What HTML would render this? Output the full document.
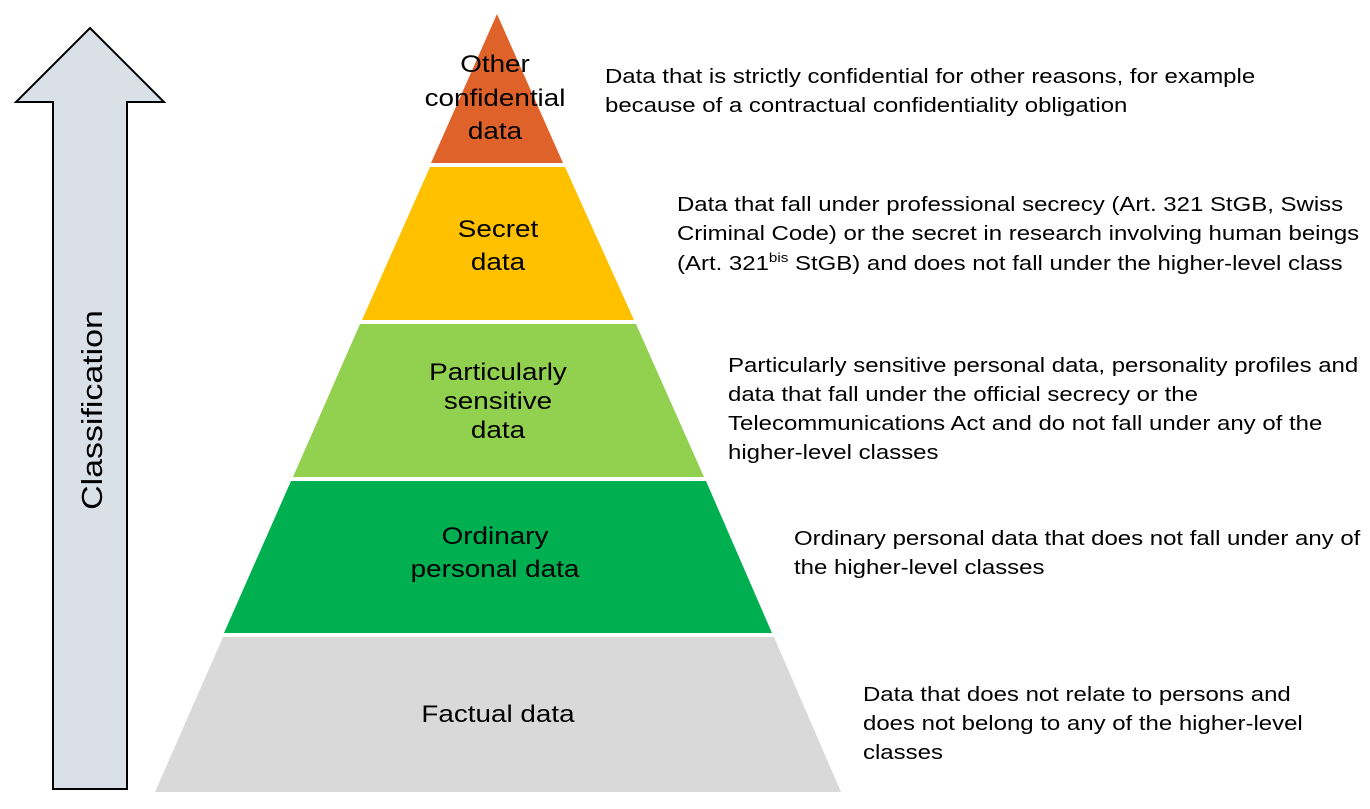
<!DOCTYPE html>
<html><head><meta charset="utf-8"><style>
body{margin:0;background:#fff;width:1370px;height:804px;overflow:hidden;font-family:"Liberation Sans",Arial,sans-serif}
</style></head><body>
<svg width="1370" height="804" xmlns="http://www.w3.org/2000/svg" font-family="Liberation Sans, Arial, sans-serif">
<polygon points="90,28 164,102 127,102 127,789 53,789 53,102 16,102" fill="#d9e0e8" stroke="#000" stroke-width="2"/>
<g transform="translate(102,410) rotate(-90) scale(1.17,1)"><text x="0" y="0" text-anchor="middle" font-size="29">Classification</text></g>
<polygon points="497,14 563,163 431,163" fill="#e0622b"/>
<polygon points="430,167 565,167 634,320 362,320" fill="#ffc000"/>
<polygon points="360,324 636,324 704,477 293,477" fill="#92d050"/>
<polygon points="291,481 706,481 772,633 224,633" fill="#00b050"/>
<polygon points="223,637 774,637 841,792 155,792" fill="#d9d9d9"/>
<g font-size="24" text-anchor="middle" fill="#000">
<g transform="translate(495,0) scale(1.16,1)"><text x="0" y="72">Other</text><text x="0" y="106">confidential</text><text x="0" y="139">data</text></g>
<g transform="translate(498,0) scale(1.16,1)"><text x="0" y="237">Secret</text><text x="0" y="270">data</text>
<text x="0" y="380">Particularly</text><text x="0" y="409">sensitive</text><text x="0" y="438">data</text></g>
<g transform="translate(495,0) scale(1.16,1)"><text x="0" y="544">Ordinary</text><text x="0" y="577">personal data</text></g>
<g transform="translate(498,0) scale(1.16,1)"><text x="0" y="722">Factual data</text></g>
</g>
<g font-size="20.5" fill="#000">
<g transform="translate(605,0) scale(1.17,1)"><text x="0" y="83">Data that is strictly confidential for other reasons, for example</text>
<text x="0" y="112">because of a contractual confidentiality obligation</text></g>
<g transform="translate(677,0) scale(1.17,1)"><text x="0" y="211">Data that fall under professional secrecy (Art. 321 StGB, Swiss</text>
<text x="0" y="240">Criminal Code) or the secret in research involving human beings</text>
<text x="0" y="270">(Art. 321<tspan font-size="13" dy="-8">bis</tspan><tspan dy="8"> StGB) and does not fall under the higher-level class</tspan></text></g>
<g transform="translate(728,0) scale(1.17,1)"><text x="0" y="372">Particularly sensitive personal data, personality profiles and</text>
<text x="0" y="401">data that fall under the official secrecy or the</text>
<text x="0" y="430">Telecommunications Act and do not fall under any of the</text>
<text x="0" y="459">higher-level classes</text></g>
<g transform="translate(794,0) scale(1.17,1)"><text x="0" y="545">Ordinary personal data that does not fall under any of</text>
<text x="0" y="574">the higher-level classes</text></g>
<g transform="translate(863,0) scale(1.17,1)"><text x="0" y="701">Data that does not relate to persons and</text>
<text x="0" y="730">does not belong to any of the higher-level</text>
<text x="0" y="759">classes</text></g>
</g>
</svg>
</body></html>
